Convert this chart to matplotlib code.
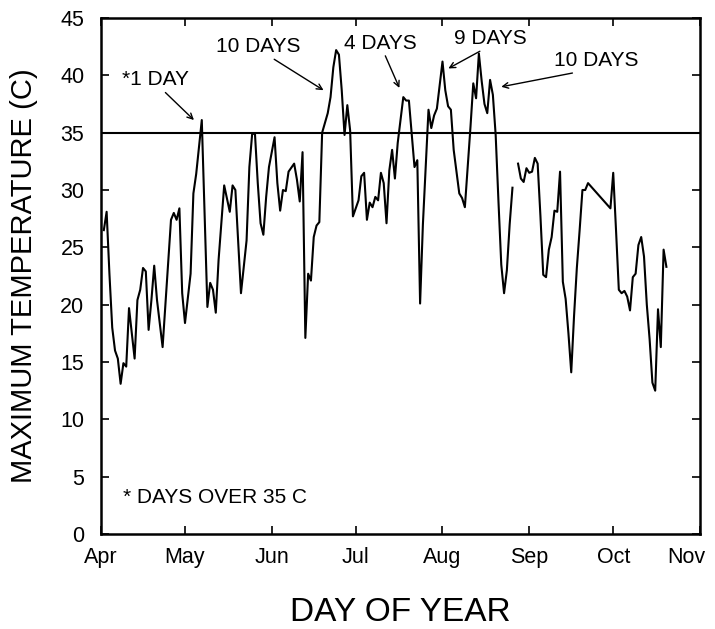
import matplotlib.pyplot as plt
import matplotlib.transforms as mtransforms
import numpy as np

plt.rcParams['font.family'] = ['Liberation Sans', 'DejaVu Sans']

# day of year and daily maximum temperature (C); nan marks the missing day
day = [92, 93, 94, 95, 96, 97, 98, 99, 100, 101, 102, 103, 104, 105, 106, 107,
       108, 109, 110, 111, 113, 114, 116, 117, 118, 119, 120, 121, 123, 124,
       125, 127, 129, 130, 131, 132, 133, 135, 137, 138, 139, 141, 143, 144,
       145, 146, 147, 148, 149, 150, 151, 153, 154, 155, 156, 157, 158, 160,
       161, 162, 163, 164, 165, 166, 167, 168, 169, 170, 172, 173, 174, 175,
       176, 177, 178, 179, 180, 181, 183, 184, 185, 186, 187, 188, 189, 190,
       191, 192, 193, 194, 195, 196, 197, 199, 200, 201, 202, 203, 204, 205,
       206, 208, 209, 210, 211, 213, 214, 215, 216, 217, 219, 220, 221, 223,
       224, 225, 226, 227, 228, 229, 230, 231, 232, 233, 234, 235, 236, 237,
       238, 239, 240, 241, 242, 243, 244, 245, 246, 247, 248, 249, 250, 251,
       252, 253, 254, 255, 256, 257, 258, 259, 260, 261, 262, 263, 264, 265,
       273, 274, 275, 276, 277, 278, 279, 280, 281, 282, 283, 284, 285, 286,
       287, 288, 289, 290, 291, 292, 293]
tmax = [26.5, 28.1, 22.7, 18.0, 16.0, 15.3, 13.1, 14.9, 14.6, 19.7, 17.5, 15.3,
        20.4, 21.3, 23.2, 22.9, 17.8, 20.4, 23.4, 20.4, 16.3, 20.0, 27.4, 28.0,
        27.4, 28.4, 21.0, 18.4, 22.7, 29.7, 31.4, 36.1, 19.8, 21.9, 21.3, 19.3,
        23.9, 30.4, 28.1, 30.4, 30.0, 21.0, 25.6, 32.0, 34.9, 34.9, 30.6, 27.1,
        26.1, 29.4, 32.0, 34.6, 30.6, 28.2, 30.0, 29.9, 31.6, 32.3, 30.9, 29.0,
        33.3, 17.1, 22.7, 22.1, 25.9, 26.9, 27.2, 35.0, 36.7, 38.1, 40.7, 42.2,
        41.8, 38.7, 34.8, 37.4, 35.2, 27.7, 29.1, 31.2, 31.5, 27.4, 28.9, 28.5,
        29.4, 29.1, 31.5, 30.6, 27.1, 31.7, 33.5, 31.0, 34.1, 38.1, 37.8, 37.8,
        34.9, 32.0, 32.6, 20.1, 27.0, 37.0, 35.4, 36.5, 37.1, 41.2, 38.7, 37.3,
        37.0, 33.5, 29.7, 29.3, 28.5, 35.5, 39.3, 38.0, 41.9, 39.5, 37.5, 36.7,
        39.6, 38.3, 34.8, 29.0, 23.5, 21.0, 23.0, 27.0, 30.2, np.nan, 32.3, 31.0,
        30.7, 31.9, 31.5, 31.6, 32.8, 32.3, 27.7, 22.6, 22.4, 24.8, 25.9, 28.2,
        28.1, 31.6, 22.0, 20.5, 17.5, 14.1, 19.0, 23.2, 26.5, 30.0, 30.0, 30.6,
        28.4, 31.5, 26.5, 21.3, 21.0, 21.2, 20.7, 19.5, 22.4, 22.7, 25.2, 25.9,
        24.2, 20.0, 17.0, 13.2, 12.5, 19.6, 16.3, 24.8, 23.3]

month_start = [91, 121, 152, 182, 213, 244, 274, 305]
month_name = ['Apr', 'May', 'Jun', 'Jul', 'Aug', 'Sep', 'Oct', 'Nov']
threshold = 35

# label text, text position, arrow tip
notes = [('*1 DAY', (110.6, 39.6), (124.2, 36.1)),
         ('10 DAYS', (147.0, 42.5), (170.5, 38.7)),
         ('4 DAYS', (190.9, 42.8), (197.6, 38.9)),
         ('9 DAYS', (230.1, 43.2), (215.1, 40.6)),
         ('10 DAYS', (267.9, 41.3), (234.0, 39.0))]

fig = plt.figure(figsize=(7.15, 6.29), dpi=100)
ax = fig.add_axes([0.1413, 0.151, 0.8377, 0.8204])

ax.plot(day, tmax, color='black', lw=1.5)
ax.axhline(threshold, color='black', lw=1.5)

ax.set_xlim(91, 305)
ax.set_ylim(0, 45)
ax.set_xticks(month_start)
ax.set_xticklabels(month_name)
ax.set_yticks(np.arange(0, 46, 5))
ax.tick_params(direction='in', length=6, width=1.2, top=True, right=True,
               labelsize=15.5)
ax.tick_params(axis='x', pad=9)
ax.tick_params(axis='y', pad=12)
for s in ax.spines.values():
    s.set_linewidth(1.8)

# keep the last month label inside the figure
last = ax.get_xticklabels()[-1]
last.set_transform(last.get_transform() +
                   mtransforms.ScaledTranslation(-10 / 72, 0, fig.dpi_scale_trans))

ax.set_xlabel('DAY OF YEAR', fontsize=24, labelpad=21)
ax.set_ylabel('MAXIMUM TEMPERATURE (C)', fontsize=21, labelpad=16)

for text, xy_text, xy in notes:
    start = (xy_text[0] + (xy[0] - xy_text[0]) * 0.25,
             xy_text[1] - 1.1)
    ax.text(xy_text[0], xy_text[1], text, fontsize=15, ha='center',
            va='center')
    ax.annotate('', xy=xy, xytext=start,
                arrowprops=dict(arrowstyle='->', color='black', lw=1.0,
                                shrinkA=0, shrinkB=0))

ax.text(99, 3.2, '* DAYS OVER 35 C', fontsize=15, ha='left', va='center')

fig.savefig('out.png', dpi=100)
